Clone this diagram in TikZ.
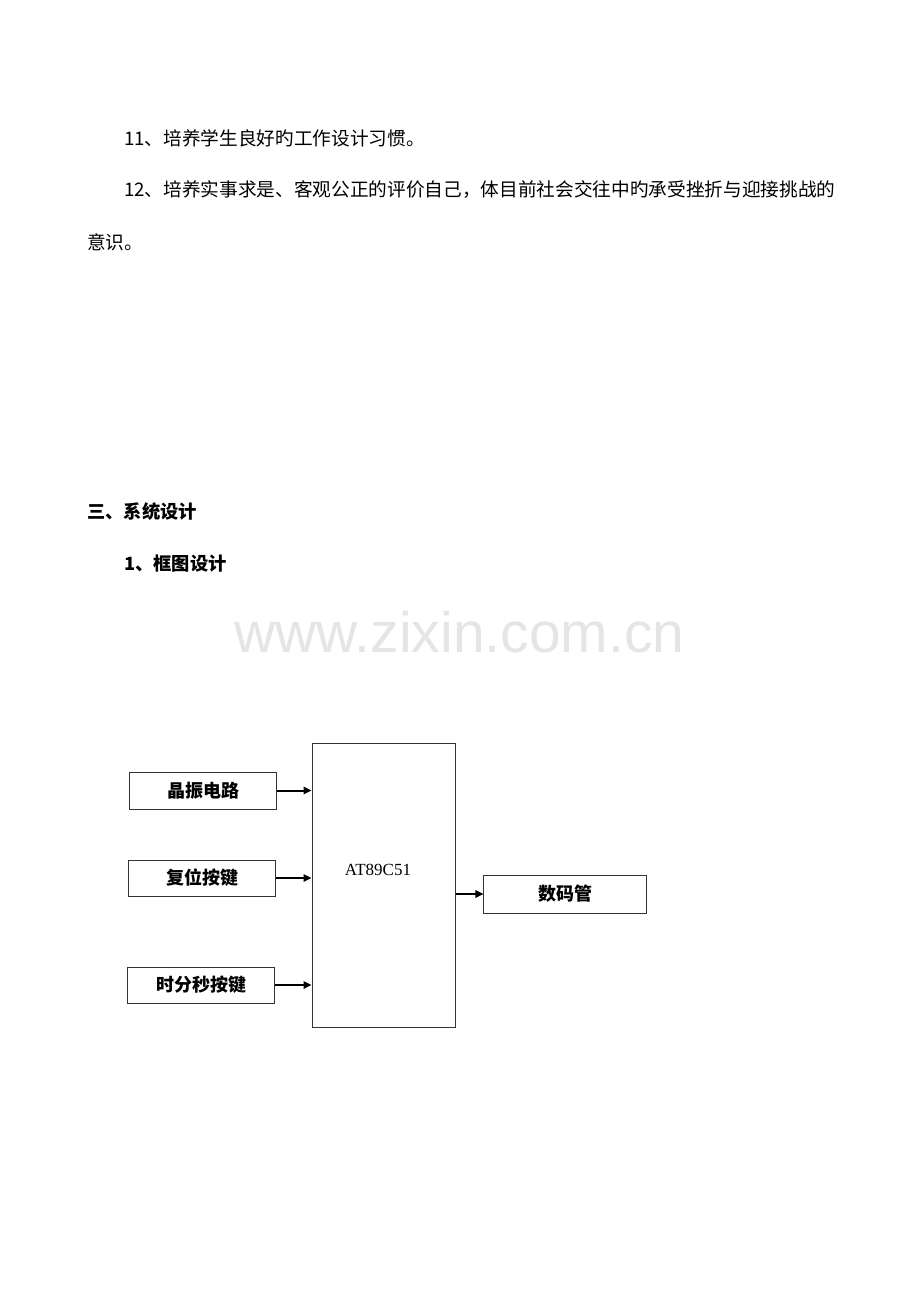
\documentclass[tikz,border=0pt]{standalone}
\usepackage{fontspec}
\newfontfamily\cjk{Noto Sans CJK SC}
\newfontfamily\seriffam{Liberation Serif}
\newfontfamily\wmfam{Liberation Sans}
\usetikzlibrary{arrows.meta}
\begin{document}
\begin{tikzpicture}[x=0.75pt,y=-0.75pt,
  bodytext/.style={anchor=west,inner sep=0pt,font=\cjk\fontsize{14pt}{16pt}\selectfont},
  headtext/.style={anchor=west,inner sep=0pt,font=\cjk\bfseries\fontsize{13.7pt}{16pt}\selectfont},
  blockbox/.style={draw=black!80,line width=0.75pt,inner sep=0pt,font=\cjk\bfseries\fontsize{13.5pt}{16pt}\selectfont},
  conn/.style={line width=1.5pt,-{Triangle[length=6pt,width=5.5pt]}}]
\fill[white] (0,0) rectangle (920,1302);
\useasboundingbox (0,0) rectangle (920,1302);
% text
\node[bodytext] (l1) at (124,138) {11、培养学生良好旳工作设计习惯。};
\node[bodytext] (l2) at (124,190) {12、培养实事求是、客观公正的评价自己，体目前社会交往中旳承受挫折与迎接挑战的};
\node[bodytext] (l3) at (87,242) {意识。};
\node[headtext] (h1) at (87,512) {三、系统设计};
\node[headtext] (h2) at (124,564) {1、框图设计};
% watermark
\node[anchor=base,inner sep=0pt,text=black!10,font=\wmfam\fontsize{42.75pt}{48pt}\selectfont] (wm) at (459.5,652) {www.zixin.com.cn};
% blocks
\node[blockbox,minimum width=110.6pt,minimum height=27.75pt] (osc) at (203.25,790.5) {晶振电路};
\node[blockbox,minimum width=110.25pt,minimum height=27pt] (rst) at (202,878) {复位按键};
\node[blockbox,minimum width=109.9pt,minimum height=27pt] (key) at (201.25,985) {时分秒按键};
\node[blockbox,minimum width=107.6pt,minimum height=213pt] (mcu) at (383.75,885) {};
\node[inner sep=0pt,font=\seriffam\fontsize{12.75pt}{14pt}\selectfont] (mcutxt) at (378,870) {AT89C51};
\node[blockbox,minimum width=121.9pt,minimum height=28.5pt] (seg) at (565.25,894) {数码管\hspace{12pt}};
% connectors
\draw[conn] (osc.east) -- (osc.east -| mcu.west);
\draw[conn] (rst.east) -- (rst.east -| mcu.west);
\draw[conn] (key.east) -- (key.east -| mcu.west);
\draw[conn] (seg.west -| mcu.east) -- (seg.west);
\end{tikzpicture}
\end{document}
